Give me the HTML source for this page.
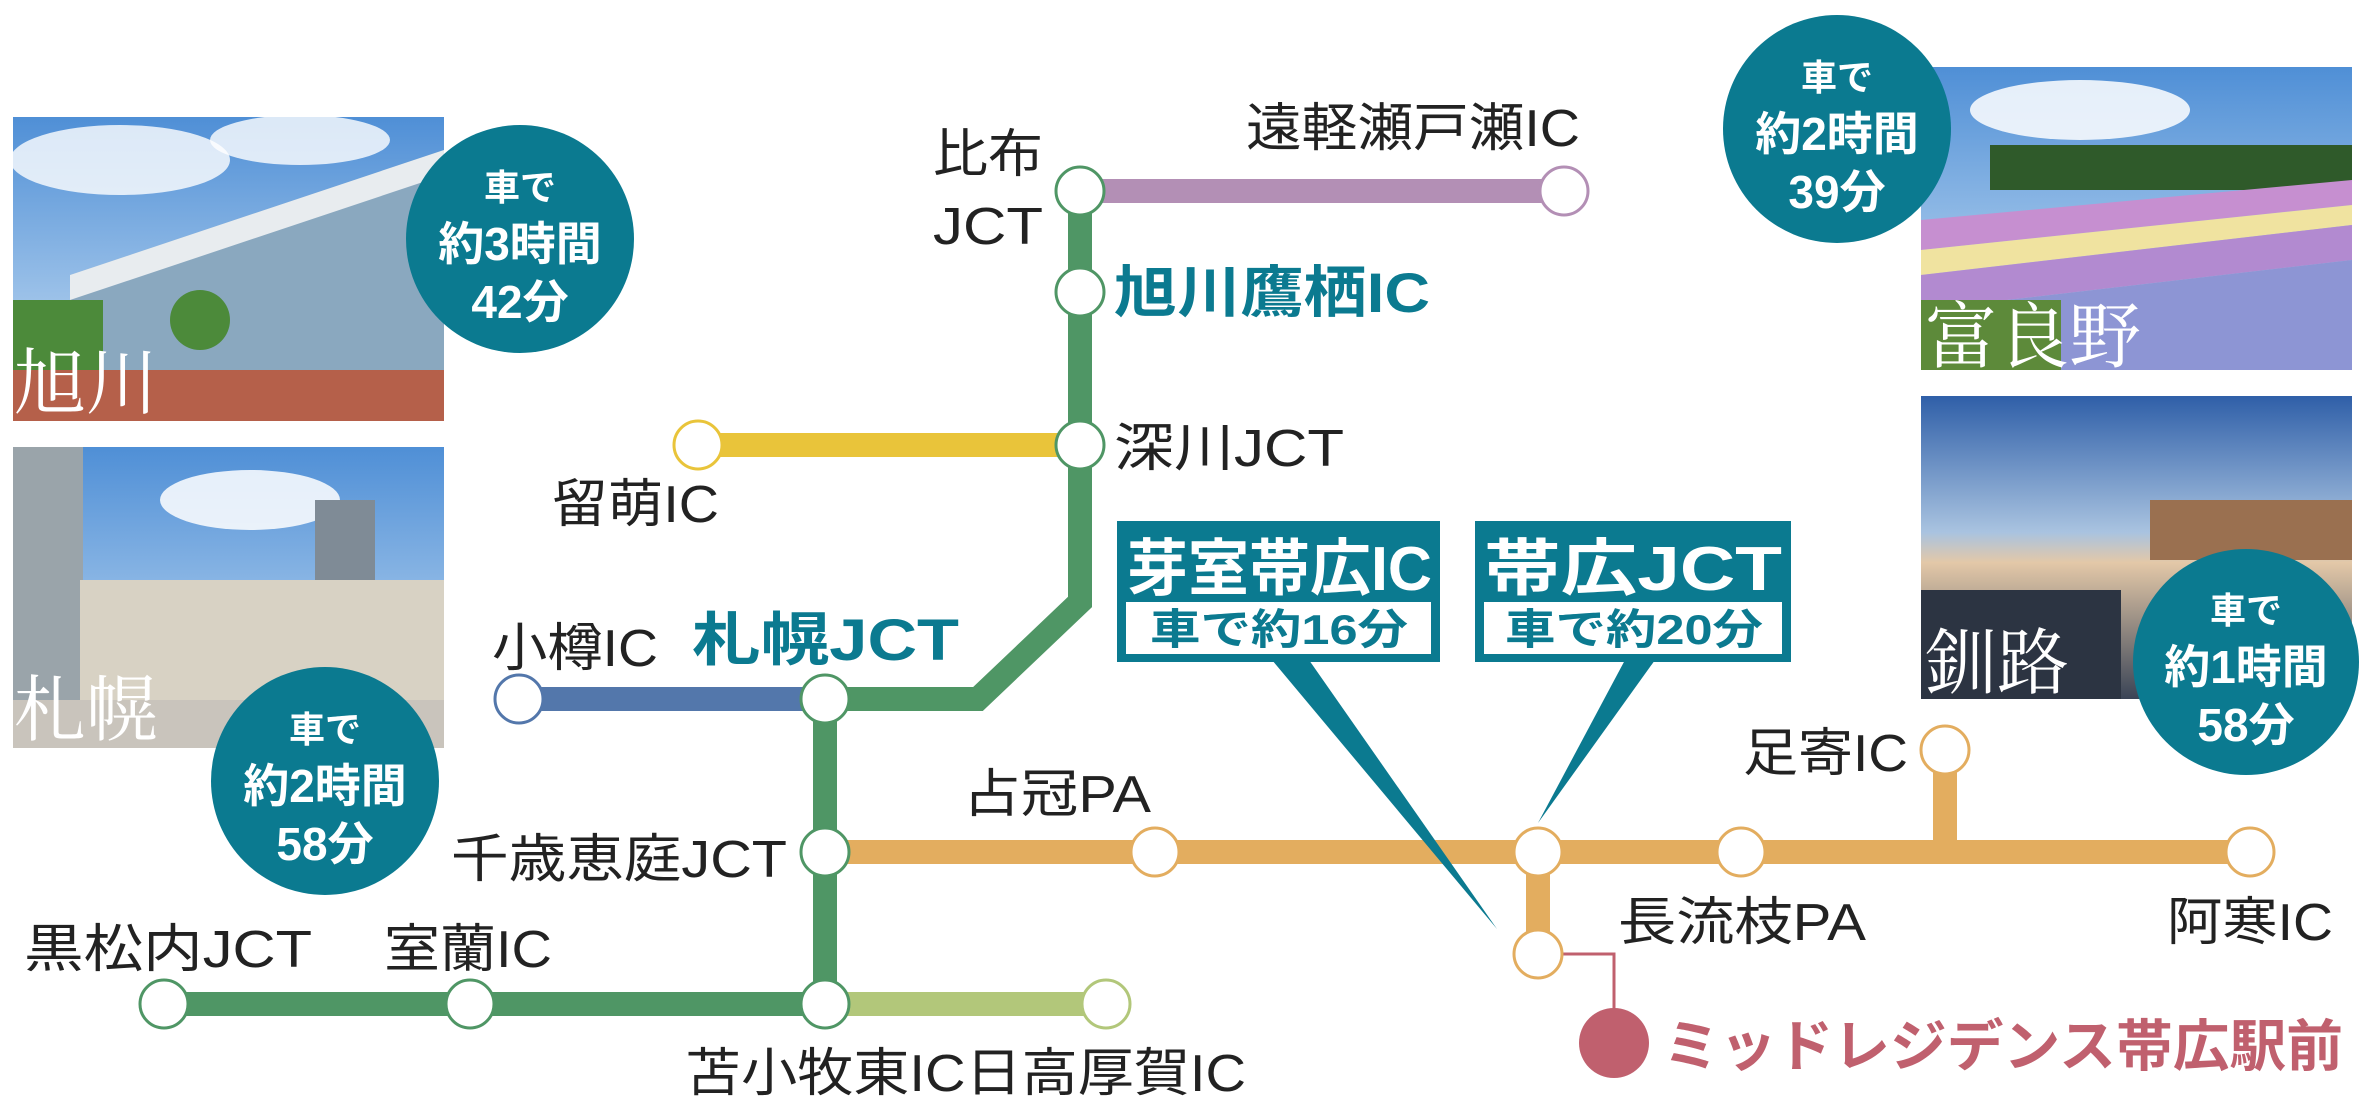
<!DOCTYPE html>
<html><head><meta charset="utf-8"><style>
html,body{margin:0;padding:0;background:#fff;}
svg{display:block;}
text{font-family:"Liberation Sans","Noto Sans CJK JP",sans-serif;}
.lb{font-size:52px;fill:#222;}
.ct{fill:#fff;font-weight:bold;text-anchor:middle;}
.pl{font-family:"Liberation Serif","Noto Serif CJK SC",serif;fill:#fff;font-size:72px;}
</style></head><body>
<svg width="2360" height="1108" viewBox="0 0 2360 1108" xmlns="http://www.w3.org/2000/svg">
<defs>
<linearGradient id="sky" x1="0" y1="0" x2="0" y2="1"><stop offset="0" stop-color="#4f8fd6"/><stop offset="1" stop-color="#cfe3f5"/></linearGradient>
<linearGradient id="dusk" x1="0" y1="0" x2="0" y2="1"><stop offset="0" stop-color="#2f5fa8"/><stop offset="0.45" stop-color="#a9c3e0"/><stop offset="0.55" stop-color="#e3c8a8"/><stop offset="1" stop-color="#3a4456"/></linearGradient>
</defs>

<rect x="13" y="117" width="431" height="304" fill="url(#sky)"/>
<ellipse cx="120" cy="160" rx="110" ry="35" fill="#fff" opacity="0.8"/>
<ellipse cx="300" cy="140" rx="90" ry="25" fill="#fff" opacity="0.8"/>
<polygon points="70,275 444,150 444,370 70,370" fill="#8aa8bf"/>
<polygon points="70,275 444,150 444,175 70,300" fill="#e8ecef"/>
<rect x="13" y="300" width="90" height="80" fill="#4c8a3a"/>
<circle cx="200" cy="320" r="30" fill="#4c8a3a"/>
<rect x="13" y="370" width="431" height="51" fill="#b5604a"/>
<text x="14" y="408" class="pl">旭川</text>

<rect x="13" y="447" width="431" height="301" fill="url(#sky)"/>
<ellipse cx="250" cy="500" rx="90" ry="30" fill="#fff" opacity="0.85"/>
<rect x="13" y="447" width="70" height="301" fill="#9aa4aa"/>
<rect x="315" y="500" width="60" height="200" fill="#7f8b96"/>
<rect x="80" y="580" width="364" height="130" fill="#d8d2c4"/>
<rect x="13" y="700" width="431" height="48" fill="#c9c4bc"/>
<text x="14" y="735" class="pl">札幌</text>

<rect x="1921" y="67" width="431" height="303" fill="url(#sky)"/>
<ellipse cx="2080" cy="110" rx="110" ry="30" fill="#fff" opacity="0.85"/>
<rect x="1990" y="145" width="362" height="45" fill="#2f5a2a"/>
<polygon points="1921,220 2352,180 2352,205 1921,250" fill="#c68fd0"/>
<polygon points="1921,250 2352,205 2352,225 1921,275" fill="#f0e3a0"/>
<polygon points="1921,275 2352,225 2352,260 1921,310" fill="#b28ad0"/>
<polygon points="1921,310 2352,260 2352,370 1921,370" fill="#8d95d4"/>
<rect x="1921" y="300" width="140" height="70" fill="#5d8a3a"/>
<text x="1925" y="362" class="pl">富良野</text>

<rect x="1921" y="396" width="431" height="303" fill="url(#dusk)"/>
<rect x="2150" y="500" width="202" height="60" fill="#9a7050"/>
<rect x="1921" y="590" width="200" height="109" fill="#2c3442"/>
<text x="1925" y="688" class="pl">釧路</text>

<g fill="#0b7a90">
<circle cx="520" cy="239" r="114"/>
<circle cx="325" cy="781" r="114"/>
<circle cx="1837" cy="129" r="114"/>
<circle cx="2246" cy="662" r="113"/>
</g>
<g class="ct">
<text x="520" y="200" font-size="36">車で</text><text x="520" y="260" font-size="46">約3時間</text><text x="520" y="318" font-size="46">42分</text>
<text x="325" y="742" font-size="36">車で</text><text x="325" y="802" font-size="46">約2時間</text><text x="325" y="860" font-size="46">58分</text>
<text x="1837" y="90" font-size="36">車で</text><text x="1837" y="150" font-size="46">約2時間</text><text x="1837" y="208" font-size="46">39分</text>
<text x="2246" y="623" font-size="36">車で</text><text x="2246" y="683" font-size="46">約1時間</text><text x="2246" y="741" font-size="46">58分</text>
</g>

<g fill="none" stroke-width="24" stroke-linejoin="miter">
<polyline points="1080,191 1564,191" stroke="#b38fb5"/>
<polyline points="698,445 1080,445" stroke="#e9c43a"/>
<polyline points="519,699 825,699" stroke="#5377ab"/>
<polyline points="825,1004 1106,1004" stroke="#b2c77a"/>
<polyline points="825,852 2250,852" stroke="#e3ad5f"/>
<polyline points="1945,750 1945,852" stroke="#e3ad5f"/>
<polyline points="1538,852 1538,954" stroke="#e3ad5f"/>
<polyline points="1080,191 1080,602 978,699 825,699" stroke="#4f9665"/>
<polyline points="825,699 825,1004" stroke="#4f9665"/>
<polyline points="164,1004 825,1004" stroke="#4f9665"/>
</g>
<polyline points="1560,954 1614,954 1614,1010" fill="none" stroke="#c0606e" stroke-width="3"/>
<circle cx="1614" cy="1043" r="35" fill="#c0606e"/>

<polygon points="1272,660 1309,660 1497,929" fill="#0b7a90"/>
<polygon points="1625,660 1655,660 1538,823" fill="#0b7a90"/>
<rect x="1117" y="521" width="323" height="141" fill="#0b7a90"/>
<rect x="1475" y="521" width="316" height="141" fill="#0b7a90"/>
<rect x="1126" y="602" width="305" height="52" fill="#fff"/>
<rect x="1484" y="602" width="298" height="52" fill="#fff"/>
<text x="1127" y="590" font-size="62" font-weight="bold" fill="#fff" textLength="305" lengthAdjust="spacingAndGlyphs">芽室帯広IC</text>
<text x="1484" y="590" font-size="62" font-weight="bold" fill="#fff" textLength="298" lengthAdjust="spacingAndGlyphs">帯広JCT</text>
<text x="1150" y="644" font-size="42" font-weight="bold" fill="#0b7a90" textLength="258" lengthAdjust="spacingAndGlyphs">車で約16分</text>
<text x="1505" y="644" font-size="42" font-weight="bold" fill="#0b7a90" textLength="258" lengthAdjust="spacingAndGlyphs">車で約20分</text>

<g fill="#fff" stroke-width="3">
<circle cx="1080" cy="191" r="24" stroke="#4f9665"/>
<circle cx="1080" cy="292" r="24" stroke="#4f9665"/>
<circle cx="1080" cy="445" r="24" stroke="#4f9665"/>
<circle cx="825" cy="699" r="24" stroke="#4f9665"/>
<circle cx="825" cy="852" r="24" stroke="#4f9665"/>
<circle cx="825" cy="1004" r="24" stroke="#4f9665"/>
<circle cx="164" cy="1004" r="24" stroke="#4f9665"/>
<circle cx="470" cy="1004" r="24" stroke="#4f9665"/>
<circle cx="1106" cy="1004" r="24" stroke="#b2c77a"/>
<circle cx="1564" cy="191" r="24" stroke="#b38fb5"/>
<circle cx="698" cy="445" r="24" stroke="#e9c43a"/>
<circle cx="519" cy="699" r="24" stroke="#5377ab"/>
<circle cx="1155" cy="852" r="24" stroke="#e3ad5f"/>
<circle cx="1538" cy="852" r="24" stroke="#e3ad5f"/>
<circle cx="1741" cy="852" r="24" stroke="#e3ad5f"/>
<circle cx="2250" cy="852" r="24" stroke="#e3ad5f"/>
<circle cx="1945" cy="750" r="24" stroke="#e3ad5f"/>
<circle cx="1538" cy="954" r="24" stroke="#e3ad5f"/>
</g>

<text class="lb" x="933" y="172" textLength="110" lengthAdjust="spacingAndGlyphs">比布</text>
<text class="lb" x="933" y="244" textLength="110" lengthAdjust="spacingAndGlyphs">JCT</text>
<text class="lb" x="1246" y="146" textLength="334" lengthAdjust="spacingAndGlyphs">遠軽瀬戸瀬IC</text>
<text x="1114" y="312" font-size="56" font-weight="bold" fill="#0b7a90" textLength="316" lengthAdjust="spacingAndGlyphs">旭川鷹栖IC</text>
<text class="lb" x="1114" y="466" textLength="230" lengthAdjust="spacingAndGlyphs">深川JCT</text>
<text class="lb" x="552" y="522" textLength="167" lengthAdjust="spacingAndGlyphs">留萌IC</text>
<text class="lb" x="492" y="666" textLength="166" lengthAdjust="spacingAndGlyphs">小樽IC</text>
<text x="692" y="660" font-size="58" font-weight="bold" fill="#0b7a90" textLength="267" lengthAdjust="spacingAndGlyphs">札幌JCT</text>
<text class="lb" x="963" y="812" textLength="188" lengthAdjust="spacingAndGlyphs">占冠PA</text>
<text class="lb" x="451" y="877" textLength="336" lengthAdjust="spacingAndGlyphs">千歳恵庭JCT</text>
<text class="lb" x="24" y="967" textLength="288" lengthAdjust="spacingAndGlyphs">黒松内JCT</text>
<text class="lb" x="384" y="967" textLength="168" lengthAdjust="spacingAndGlyphs">室蘭IC</text>
<text class="lb" x="685" y="1091" textLength="561" lengthAdjust="spacingAndGlyphs">苫小牧東IC日高厚賀IC</text>
<text class="lb" x="1743" y="771" textLength="165" lengthAdjust="spacingAndGlyphs">足寄IC</text>
<text class="lb" x="1618" y="940" textLength="248" lengthAdjust="spacingAndGlyphs">長流枝PA</text>
<text class="lb" x="2167" y="940" textLength="166" lengthAdjust="spacingAndGlyphs">阿寒IC</text>
<text x="1663" y="1066" font-size="56" font-weight="bold" fill="#c0606e" textLength="680" lengthAdjust="spacingAndGlyphs">ミッドレジデンス帯広駅前</text>
</svg>
</body></html>
